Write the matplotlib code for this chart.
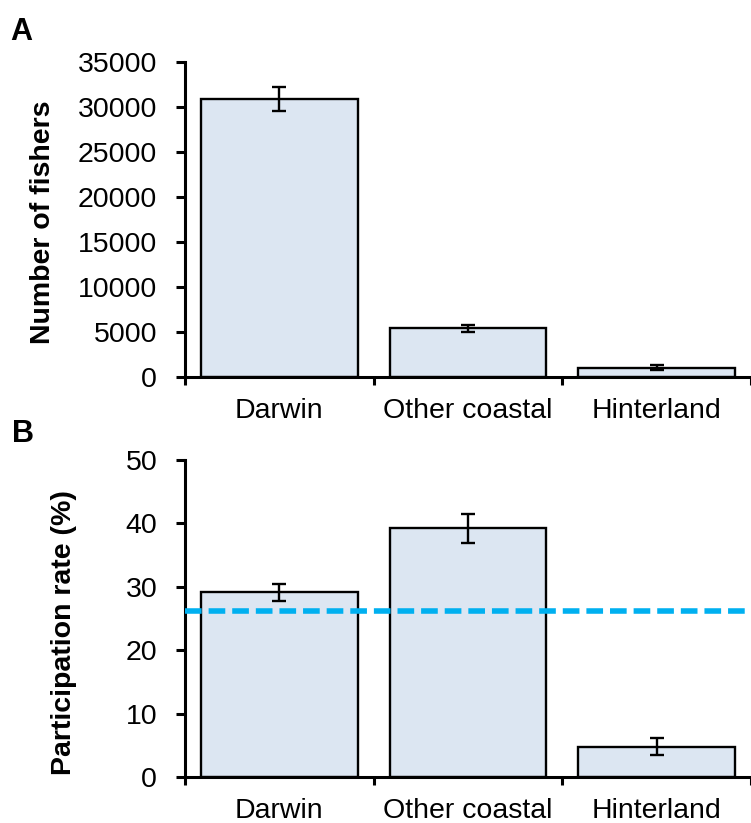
import numpy as np
import matplotlib
matplotlib.use("Agg")
import matplotlib.pyplot as plt

plt.rcParams['font.family'] = ['Liberation Sans', 'DejaVu Sans']

regions = ["Darwin", "Other coastal", "Hinterland"]
fishers = [30900, 5400, 1050]
fishers_err = [1300, 380, 280]
participation = [29.1, 39.2, 4.8]
participation_err = [1.3, 2.3, 1.4]
overall_rate = 26.2

bar_color = "#DCE6F2"
line_color = "#00B0F0"

fig = plt.figure(figsize=(7.51, 8.23), dpi=100)
ax_a = fig.add_axes([0.2463, 0.5419, 0.7537, 0.3828])
ax_b = fig.add_axes([0.2463, 0.0559, 0.7537, 0.3852])

x = np.arange(1, len(regions) + 1)


def style_axis(ax, ymax, step):
    ax.set_xlim(0.5, len(regions) + 0.5)
    ax.set_ylim(0, ymax)
    ax.set_yticks(np.arange(0, ymax + step, step))
    for side in ["top", "right"]:
        ax.spines[side].set_visible(False)
    for side in ["left", "bottom"]:
        ax.spines[side].set_linewidth(2.2)
    # boundaries between categories get the tick marks, labels sit in the middle
    ax.set_xticks(np.arange(0.5, len(regions) + 1, 1.0))
    ax.set_xticklabels([])
    ax.set_xticks(x, minor=True)
    ax.set_xticklabels(regions, minor=True, fontsize=20.5)
    ax.tick_params(axis="x", which="major", direction="out", length=6, width=2.2)
    ax.tick_params(axis="x", which="minor", length=0, pad=15)
    ax.tick_params(axis="y", direction="out", length=6.5, width=2.2,
                   labelsize=20.5, pad=13.5)


# Panel A: number of fishers
ax_a.bar(x, fishers, width=0.83, color=bar_color, edgecolor="black", linewidth=1.7, zorder=2)
ax_a.errorbar(x, fishers, yerr=fishers_err, fmt="none", ecolor="black",
              elinewidth=1.7, capsize=4.7, capthick=1.7, zorder=3)
style_axis(ax_a, 35000, 5000)
ax_a.set_ylabel("Number of fishers", fontsize=20.5, fontweight="bold")
ax_a.yaxis.set_label_coords(-0.228, 0.49)

# Panel B: participation rate with overall rate as dashed line
ax_b.bar(x, participation, width=0.83, color=bar_color, edgecolor="black", linewidth=1.7, zorder=2)
ax_b.errorbar(x, participation, yerr=participation_err, fmt="none", ecolor="black",
              elinewidth=1.7, capsize=4.7, capthick=1.7, zorder=3)
ax_b.axhline(overall_rate, color=line_color, linewidth=4, linestyle=(0, (3, 1.25)),
             zorder=4, clip_on=False)
style_axis(ax_b, 50, 10)
ax_b.set_ylabel("Participation rate (%)", fontsize=20.5, fontweight="bold")
ax_b.yaxis.set_label_coords(-0.191, 0.457)

fig.text(10 / 751, 1 - 40 / 823, "A", fontsize=22, fontweight="bold", va="baseline")
fig.text(12 / 751, 1 - 442 / 823, "B", fontsize=22, fontweight="bold", va="baseline")

fig.savefig("out.png", dpi=100)
